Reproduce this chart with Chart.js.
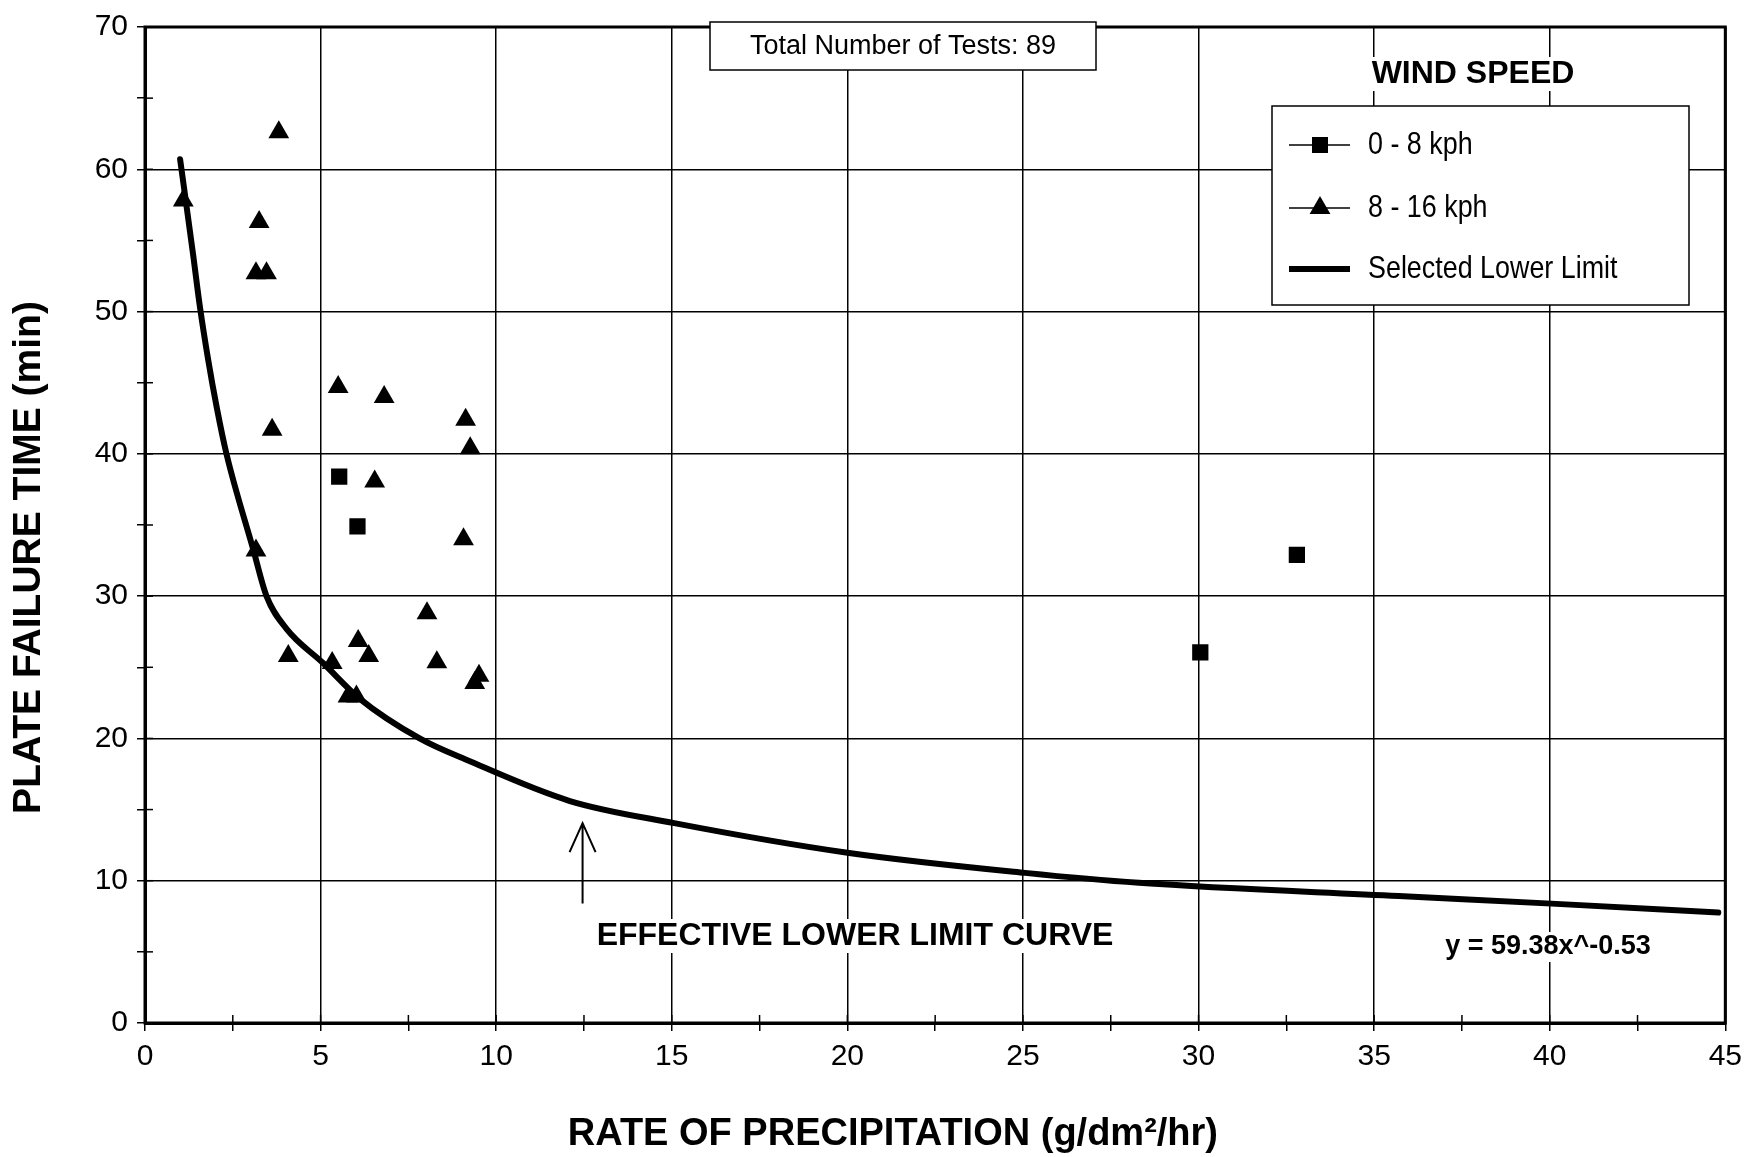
<!DOCTYPE html>
<html>
<head>
<meta charset="utf-8">
<title>Plate failure time vs rate of precipitation</title>
<script src="https://cdn.jsdelivr.net/npm/chart.js@4.4.1/dist/chart.umd.min.js"></script>
<style>
    html, body { margin: 0; padding: 0; background: #fff; }
    #wrap { width: 1750px; height: 1157px; }
</style>
</head>
<body>
<div id="wrap"><canvas id="failureChart" width="1750" height="1157"></canvas></div>
<script>
// 0 - 8 kph tests (squares)
const lowWindRate = [5.53, 6.05, 30.05, 32.80];
const lowWindTime = [38.4, 34.9, 26.05, 32.9];

// 8 - 16 kph tests (triangles)
const midWindRate = [1.09, 3.81, 3.25, 3.16, 3.46, 3.62, 3.16, 4.08, 5.50, 6.81, 6.54, 9.13,
                     9.26, 9.07, 8.03, 5.33, 6.07, 6.37, 8.31, 5.78, 6.02, 9.51, 9.39];
const midWindTime = [57.8, 62.6, 56.3, 52.7, 52.7, 41.7, 33.2, 25.8, 44.7, 44.0, 38.05, 42.4,
                     40.4, 34.0, 28.8, 25.3, 26.85, 25.8, 25.35, 22.95, 22.95, 24.4, 23.9];

// selected lower limit curve
const limitRate = [1.0, 1.37, 1.56, 1.8, 2.04, 2.32, 3.08, 3.46, 4.03, 5.07, 6.11, 7.82, 9.15,
                   12.1, 15.07, 20.05, 25.06, 28.3, 35.7, 40.05, 44.8];
const limitTime = [60.7, 54.0, 50.4, 46.6, 43.3, 40.0, 33.3, 30.0, 27.7, 25.3, 22.8, 20.0, 18.5,
                   15.6, 14.05, 11.95, 10.55, 9.85, 8.92, 8.39, 7.76];

// arrow under the curve
const arrowRate = [12.46, 12.46];
const arrowTime = [8.39, 14.05];

const xTickLabels = [0, 5, 10, 15, 20, 25, 30, 35, 40, 45];
const yTickLabels = [0, 10, 20, 30, 40, 50, 60, 70];

const SANS = "'Liberation Sans', Arial, sans-serif";

function pairs(xs, ys) {
    return xs.map((v, i) => ({ x: v, y: ys[i] }));
}

// text on a white patch so the grid stops behind it
function note(ctx, text, cx, cy, font, h) {
    ctx.font = font;
    const w = ctx.measureText(text).width;
    ctx.fillStyle = '#fff';
    ctx.fillRect(cx - w / 2 - 6, cy - h / 2, w + 12, h);
    ctx.fillStyle = '#000';
    ctx.textAlign = 'center';
    ctx.textBaseline = 'middle';
    ctx.fillText(text, cx, cy);
}

// squeezed text, the legend uses a narrow face
function narrowText(ctx, text, x0, y0) {
    ctx.save();
    ctx.translate(x0, y0);
    ctx.scale(0.84, 1);
    ctx.fillText(text, 0, 0);
    ctx.restore();
}

function triangle(ctx, cx, cy, r) {
    ctx.beginPath();
    ctx.moveTo(cx, cy - r);
    ctx.lineTo(cx + r * 0.866, cy + r / 2);
    ctx.lineTo(cx - r * 0.866, cy + r / 2);
    ctx.closePath();
    ctx.fill();
}

const extras = {
    id: 'extras',
    beforeDatasetsDraw(chart) {
        const { ctx, chartArea: a, scales: { x, y } } = chart;
        ctx.save();
        ctx.strokeStyle = '#000';
        ctx.fillStyle = '#000';

        // inner half of each tick mark
        ctx.lineWidth = 1.5;
        x.ticks.forEach(t => {
            const px = x.getPixelForValue(t.value);
            ctx.beginPath(); ctx.moveTo(px, a.bottom); ctx.lineTo(px, a.bottom - 8); ctx.stroke();
        });
        y.ticks.forEach(t => {
            const py = y.getPixelForValue(t.value);
            ctx.beginPath(); ctx.moveTo(a.left, py); ctx.lineTo(a.left + 8, py); ctx.stroke();
        });

        // frame
        ctx.lineWidth = 3;
        ctx.strokeRect(a.left, a.top, a.right - a.left, a.bottom - a.top);

        // total tests box
        ctx.fillStyle = '#fff';
        ctx.fillRect(710, 22, 386, 48);
        ctx.lineWidth = 1.5;
        ctx.strokeRect(710, 22, 386, 48);
        ctx.fillStyle = '#000';
        ctx.font = '27px ' + SANS;
        ctx.textAlign = 'center';
        ctx.textBaseline = 'middle';
        ctx.fillText('Total Number of Tests: 89', 903, 47);

        // legend
        note(ctx, 'WIND SPEED', 1473, 74, 'bold 32px ' + SANS, 34);
        ctx.fillStyle = '#fff';
        ctx.fillRect(1272, 106, 417, 199);
        ctx.strokeRect(1272, 106, 417, 199);
        ctx.fillStyle = '#000';
        ctx.lineWidth = 1.5;
        [145, 208].forEach(ly => {
            ctx.beginPath(); ctx.moveTo(1289, ly); ctx.lineTo(1350, ly); ctx.stroke();
        });
        ctx.fillRect(1320 - 8, 145 - 8, 16, 16);
        triangle(ctx, 1320, 208, 12);
        ctx.lineWidth = 6;
        ctx.beginPath(); ctx.moveTo(1289, 269); ctx.lineTo(1350, 269); ctx.stroke();
        ctx.font = '32px ' + SANS;
        ctx.textAlign = 'left';
        narrowText(ctx, '0 - 8 kph', 1368, 145);
        narrowText(ctx, '8 - 16 kph', 1368, 208);
        narrowText(ctx, 'Selected Lower Limit', 1368, 269);

        // arrow and labels below the curve
        const ax = x.getPixelForValue(arrowRate[0]);
        const y0 = y.getPixelForValue(arrowTime[0]);
        const y1 = y.getPixelForValue(arrowTime[1]);
        ctx.lineWidth = 2;
        ctx.beginPath();
        ctx.moveTo(ax, y0); ctx.lineTo(ax, y1);
        ctx.moveTo(ax - 13, y1 + 29); ctx.lineTo(ax, y1); ctx.lineTo(ax + 13, y1 + 29);
        ctx.stroke();
        note(ctx, 'EFFECTIVE LOWER LIMIT CURVE', 855, 936, 'bold 32px ' + SANS, 34);
        note(ctx, 'y = 59.38x^-0.53', 1548, 947, 'bold 27px ' + SANS, 30);
        ctx.restore();
    }
};

const majorOnly = step => ctx => (ctx.tick && ctx.tick.value % step === 0) ? '#000' : 'rgba(0,0,0,0)';

new Chart(document.getElementById('failureChart'), {
    type: 'scatter',
    data: {
        datasets: [{
            label: '0 - 8 kph',
            data: pairs(lowWindRate, lowWindTime),
            pointStyle: 'rect',
            pointRadius: 11.5,
            backgroundColor: '#000',
            borderColor: '#000',
            borderWidth: 0
        }, {
            label: '8 - 16 kph',
            data: pairs(midWindRate, midWindTime),
            pointStyle: 'triangle',
            pointRadius: 12,
            backgroundColor: '#000',
            borderColor: '#000',
            borderWidth: 0
        }, {
            label: 'Selected Lower Limit',
            type: 'line',
            data: pairs(limitRate, limitTime),
            showLine: true,
            borderColor: '#000',
            borderWidth: 6,
            borderCapStyle: 'round',
            pointRadius: 0,
            fill: false,
            cubicInterpolationMode: 'monotone'
        }]
    },
    options: {
        responsive: false,
        animation: false,
        devicePixelRatio: 1,
        events: [],
        layout: { padding: { top: 21, right: 23, bottom: 0, left: 0 } },
        plugins: {
            legend: { display: false },
            tooltip: { enabled: false }
        },
        scales: {
            x: {
                type: 'linear',
                min: 0,
                max: 45,
                afterFit: scale => { scale.height = 134; },
                ticks: {
                    stepSize: 2.5,
                    autoSkip: false,
                    maxRotation: 0,
                    padding: 8,
                    color: '#000',
                    font: { family: SANS, size: 30 },
                    callback: v => xTickLabels.includes(v) ? String(v) : ''
                },
                grid: { color: majorOnly(5), lineWidth: 1.5, tickColor: '#000', tickLength: 8, tickWidth: 1.5 },
                border: { color: '#000', width: 3 },
                title: {
                    display: true,
                    text: 'RATE OF PRECIPITATION (g/dm²/hr)' + '\u00a0'.repeat(8),
                    color: '#000',
                    font: { family: SANS, size: 38, weight: 'bold' },
                    padding: { top: 0, bottom: 0 }
                }
            },
            y: {
                type: 'linear',
                min: 0,
                max: 70,
                afterFit: scale => { scale.width = 145; },
                ticks: {
                    stepSize: 5,
                    autoSkip: false,
                    padding: 9,
                    color: '#000',
                    font: { family: SANS, size: 30 },
                    callback: v => yTickLabels.includes(v) ? String(v) : ''
                },
                grid: { color: majorOnly(10), lineWidth: 1.5, tickColor: '#000', tickLength: 8, tickWidth: 1.5 },
                border: { color: '#000', width: 3 },
                title: {
                    display: true,
                    text: 'PLATE FAILURE TIME (min)' + '\u00a0'.repeat(6),
                    color: '#000',
                    font: { family: SANS, size: 39, weight: 'bold' },
                    padding: { top: 6, bottom: 0 }
                }
            }
        }
    },
    plugins: [extras]
});
</script>
</body>
</html>
